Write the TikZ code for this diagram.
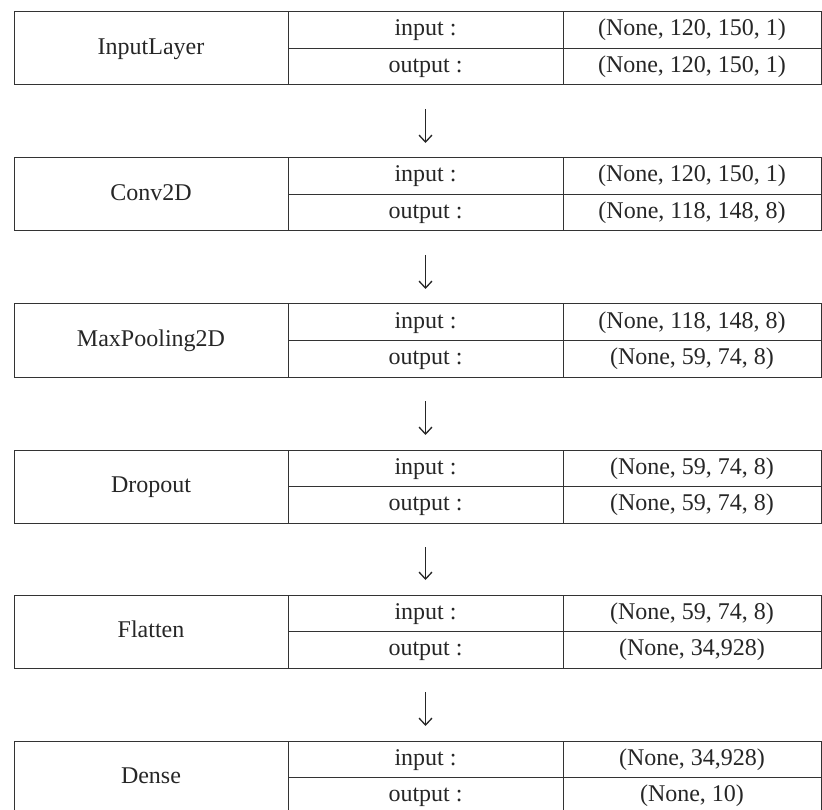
\documentclass[tikz,border=0pt]{standalone}
\usepackage{fontspec}
\setmainfont{Liberation Serif}
\usetikzlibrary{arrows.meta,positioning}

\tikzset{
  cell/.style={draw=black!80, line width=1pt, inner sep=0pt, outer sep=0pt,
    text=black!85, font=\fontsize{24}{28}\selectfont,
    text height=16pt, text depth=4.5pt},
  namebox/.style={cell, minimum width=274pt, minimum height=73pt},
  portbox/.style={cell, minimum width=275pt, minimum height=36.5pt},
  shapebox/.style={cell, minimum width=258pt, minimum height=36.5pt},
  flow/.style={line width=1.3pt, black!85,
    -{Straight Barb[length=7pt,width=13pt,line width=1.3pt]},
    shorten <=24pt, shorten >=15pt}
}

% one layer: name, label, top y, input shape, output shape
\newcommand{\layerrow}[5]{%
  \node[namebox, anchor=north west] (#1) at (14,#3) {#2};
  \node[portbox, anchor=north west] (#1-in) at (#1.north east) {input :};
  \node[portbox, anchor=north west] (#1-out) at (#1-in.south west) {output :};
  \node[shapebox, anchor=north west] (#1-ins) at (#1-in.north east) {#4};
  \node[shapebox, anchor=north west] (#1-outs) at (#1-out.north east) {#5};
}

\begin{document}
\begin{tikzpicture}[x=1pt, y=-1pt]

  \useasboundingbox (0,0) rectangle (822,810);

  % Layers
  \layerrow{inputlayer}{InputLayer}{12}{(None, 120, 150, 1)}{(None, 120, 150, 1)}
  \layerrow{conv}{Conv2D}{158}{(None, 120, 150, 1)}{(None, 118, 148, 8)}
  \layerrow{maxpool}{MaxPooling2D}{304}{(None, 118, 148, 8)}{(None, 59, 74, 8)}
  \layerrow{dropout}{Dropout}{450}{(None, 59, 74, 8)}{(None, 59, 74, 8)}
  \layerrow{flatten}{Flatten}{595}{(None, 59, 74, 8)}{(None, 34,928)}
  \layerrow{dense}{Dense}{741}{(None, 34,928)}{(None, 10)}

  % Flow between layers
  \draw[flow] (inputlayer-out.south) -- (conv-in.north);
  \draw[flow] (conv-out.south)       -- (maxpool-in.north);
  \draw[flow] (maxpool-out.south)    -- (dropout-in.north);
  \draw[flow] (dropout-out.south)    -- (flatten-in.north);
  \draw[flow] (flatten-out.south)    -- (dense-in.north);

\end{tikzpicture}
\end{document}
